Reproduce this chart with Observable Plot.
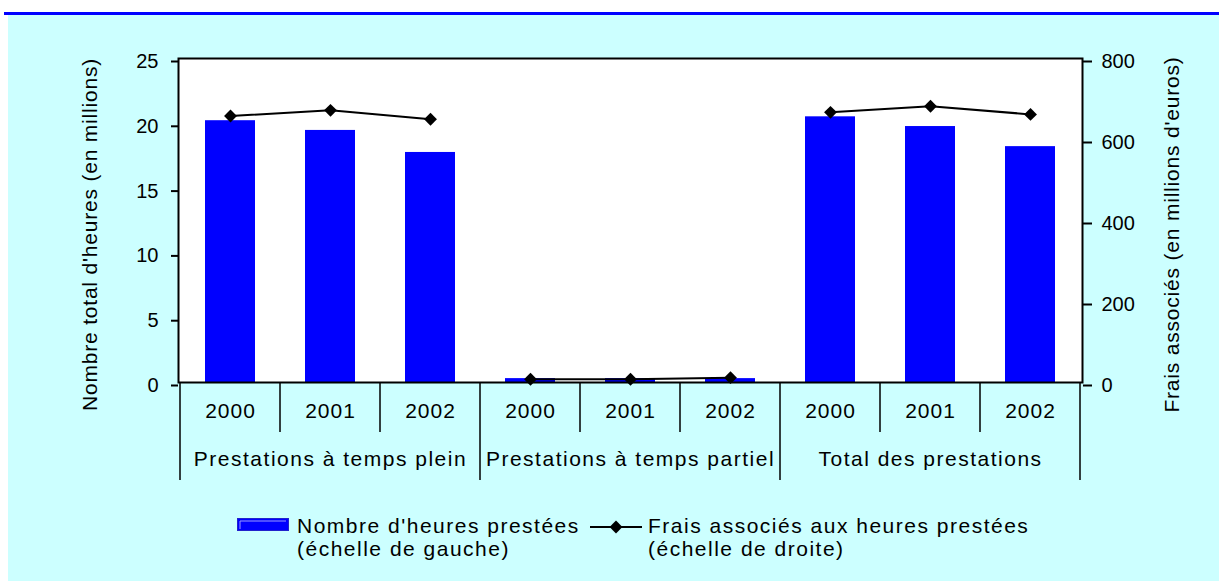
<!DOCTYPE html>
<html><head><meta charset="utf-8">
<script src="https://cdn.jsdelivr.net/npm/d3@7"></script>
<script src="https://cdn.jsdelivr.net/npm/@observablehq/plot@0.6"></script>
<style>
html,body{margin:0;padding:0;background:#fff;}
#page{position:relative;width:1219px;height:581px;overflow:hidden;font-family:"Liberation Sans",Arial,sans-serif;}
#rule{position:absolute;left:4px;top:12px;width:1215px;height:3px;background:#0000ff;}
#panel{position:absolute;left:8px;top:15px;right:0;bottom:0;background:#ccffff;}
#chart{position:absolute;left:0;top:0;}
.leg{position:absolute;font-size:21px;line-height:23px;letter-spacing:1.5px;color:#000;white-space:nowrap;}
.sw{position:absolute;overflow:visible;}
</style></head><body>
<div id="page"><div id="rule"></div><div id="panel"></div><div id="chart"></div><div id="legend"></div></div>
<script>
// ---- data ----
const groups = ["Prestations à temps plein", "Prestations à temps partiel", "Total des prestations"];
const years = ["2000", "2001", "2002"];
const heuresPlein = [20.2, 19.45, 17.75];
const heuresPartiel = [0.3, 0.3, 0.3];
const heuresTotal = [20.5, 19.75, 18.2];
const fraisPlein = [658, 672, 650];
const fraisPartiel = [8, 8, 12];
const fraisTotal = [667, 682, 662];
const leftTicks = [0, 5, 10, 15, 20, 25];
const rightTicks = [0, 200, 400, 600, 800];
const yTitleLeft = "Nombre total d'heures (en millions)";
const yTitleRight = "Frais associés (en millions d'euros)";
const legendBars = ["Nombre d'heures prestées", "(échelle de gauche)"];
const legendLine = ["Frais associés aux heures prestées", "(échelle de droite)"];
const leftMax = 25, rightMax = 800;

// ---- build table ----
const ratio = rightMax / leftMax;
const heures = [heuresPlein, heuresPartiel, heuresTotal];
const frais = [fraisPlein, fraisPartiel, fraisTotal];
const data = groups.flatMap((g, i) => years.map((y, j) => ({
  group: g, year: y, key: g + "|" + y, heures: heures[i][j], frais: frais[i][j]
})));
const keys = data.map(d => d.key);
const groupRows = groups.map(g => ({group: g, key: g + "|" + years[1]}));

function separators(index, scales) {
  const x = scales.x;
  const bw = typeof x.bandwidth === "function" ? x.bandwidth() : (x.bandwidth || 0);
  const step = x(keys[1]) - x(keys[0]);
  const y0 = scales.y(0);
  const g = d3.create("svg:g").attr("stroke", "black").attr("stroke-width", 1.5);
  const edges = keys.map((k, i) => ({pos: x(k) + bw / 2 - step / 2, major: i % years.length === 0}));
  edges.push({pos: x(keys[keys.length - 1]) + bw / 2 + step / 2, major: true});
  for (const e of edges) {
    g.append("line").attr("x1", e.pos).attr("x2", e.pos)
      .attr("y1", y0).attr("y2", y0 + (e.major ? 98 : 50));
  }
  return g.node();
}

const plot = Plot.plot({
  width: 1219, height: 500,
  marginLeft: 178, marginRight: 137, marginTop: 58, marginBottom: 118,
  style: {background: "transparent", fontFamily: "'Liberation Sans', Arial, sans-serif", color: "black", overflow: "visible"},
  x: {domain: keys, paddingInner: 0.5, paddingOuter: 0.25, axis: null},
  y: {domain: [0, leftMax], axis: null},
  marks: [
    Plot.frame({fill: "white"}),
    Plot.barY(data, {x: "key", y: "heures", fill: "#0000ff"}),
    Plot.frame({stroke: "black", strokeWidth: 2}),
    Plot.axisY(leftTicks, {anchor: "left", label: null, tickSize: 7, tickPadding: 13, fontSize: 20, dy: 3, strokeWidth: 2}),
    Plot.axisY(rightTicks.map(v => v / ratio), {anchor: "right", label: null, tickSize: 9, tickPadding: 10, fontSize: 20, dy: 3, strokeWidth: 2, tickFormat: d => String(Math.round(d * ratio))}),
    Plot.line(data, {x: "key", y: d => d.frais / ratio, z: "group", stroke: "black", strokeWidth: 2}),
    Plot.dot(data, {x: "key", y: d => d.frais / ratio, symbol: "diamond2", r: 5.8, fill: "black", stroke: "none"}),
    separators,
    Plot.text(data, {x: "key", text: "year", frameAnchor: "bottom", dy: 35, fontSize: 21}),
    Plot.text(groupRows, {x: "key", text: "group", frameAnchor: "bottom", dy: 83, fontSize: 21}),
    Plot.text([yTitleLeft], {text: d => d, frameAnchor: "left", textAnchor: "middle", dx: -88, dy: 14, rotate: -90, fontSize: 21}),
    Plot.text([yTitleRight], {text: d => d, frameAnchor: "right", textAnchor: "middle", dx: 90, dy: 14, rotate: -90, fontSize: 21})
  ]
});
document.getElementById("chart").appendChild(plot);
const texts = d3.select(plot).selectAll('g[aria-label="text"]').nodes();
const spacing = [1, 1.5, 0.8, 0.8];
texts.forEach((t, i) => d3.select(t).attr("letter-spacing", spacing[i] ?? 1));

// ---- legend ----
const legend = d3.select("#legend");
const sw1 = legend.append("svg").attr("class", "sw").attr("width", 52).attr("height", 13)
  .style("left", "237px").style("top", "518px");
sw1.append("rect").attr("x", 0.5).attr("y", 0.5).attr("width", 51).attr("height", 12)
  .attr("fill", "#0000ff").attr("stroke", "#2222cc");
sw1.append("polyline").attr("points", "3,11 3,3 49,3").attr("fill", "none").attr("stroke", "#9999ff").attr("stroke-width", 1);
legend.append("div").attr("class", "leg").style("left", "297px").style("top", "514px")
  .html(legendBars.join("<br>"));
const sw2 = legend.append("svg").attr("class", "sw").attr("width", 52).attr("height", 14)
  .style("left", "590px").style("top", "520px");
sw2.append("line").attr("x1", 0).attr("x2", 52).attr("y1", 7).attr("y2", 7).attr("stroke", "black").attr("stroke-width", 2);
sw2.append("path").attr("d", d3.symbol(d3.symbolDiamond2, 5.8 * 5.8 * Math.PI)()).attr("transform", "translate(26,7)").attr("fill", "black");
legend.append("div").attr("class", "leg").style("left", "648px").style("top", "514px")
  .html(legendLine.join("<br>"));
</script>
</body></html>
